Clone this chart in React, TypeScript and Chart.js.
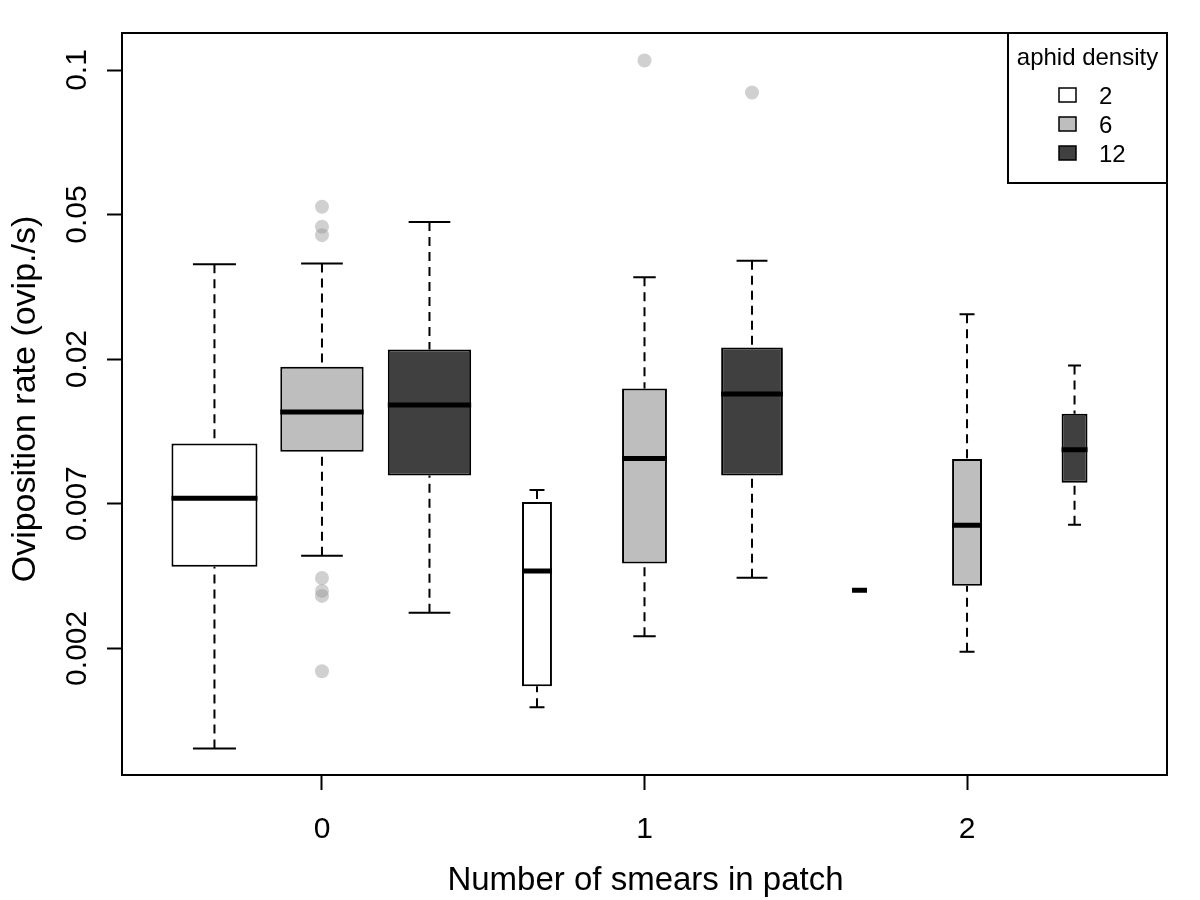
import React, { useEffect, useRef } from "react";
import { Chart, registerables } from "chart.js";

Chart.register(...registerables);

// ---- data ----
const groupLabels = ["0", "1", "2"]; // number of smears in patch
const densityLabels = ["2", "6", "12"]; // aphid density
const yTickValues = [0.002, 0.007, 0.02, 0.05, 0.1];
const yTickLabels = ["0.002", "0.007", "0.02", "0.05", "0.1"];

// boxes in order: smears 0 (density 2, 6, 12), smears 1 (2, 6, 12), smears 2 (2, 6, 12)
const lowerWhisker = [0.00084, 0.00446, 0.00272, 0.0012, 0.00222, 0.00369, 0.00331, 0.00194, 0.00584];
const lowerQuartile = [0.00406, 0.01021, 0.0086, 0.00144, 0.00417, 0.00859, 0.00331, 0.00344, 0.00815];
const median = [0.00728, 0.01362, 0.01433, 0.00391, 0.00972, 0.01553, 0.00331, 0.00581, 0.01036];
const upperQuartile = [0.01085, 0.01892, 0.02128, 0.00709, 0.01616, 0.02153, 0.00331, 0.00968, 0.01345];
const upperWhisker = [0.0365, 0.0367, 0.0477, 0.00773, 0.0336, 0.0373, 0.00331, 0.0266, 0.0191];
const sampleSize = [33, 31, 31, 4, 9, 17, 1, 4, 3];

// outliers: index of the box they belong to, and their value
const outlierBox = [1, 1, 1, 1, 1, 1, 1, 4, 5];
const outlierValue = [0.0519, 0.0463, 0.0439, 0.00368, 0.00329, 0.00315, 0.00164, 0.1047, 0.0898];

// ---- styles ----
const densityColors = ["#ffffff", "#bebebe", "#404040"];
const outlierColor = "rgba(150,150,150,0.45)";
const FONT = '"Liberation Sans", Arial, Helvetica, sans-serif';

// The y axis is drawn with its labelled ticks equally spaced; values are placed
// by log-interpolation between neighbouring labelled ticks.
function toAxis(v: number): number {
  const L = yTickValues.map((t) => Math.log10(t));
  const x = Math.log10(v);
  let k = 0;
  if (x >= L[L.length - 1]) k = L.length - 2;
  else if (x <= L[0]) k = 0;
  else {
    while (k < L.length - 2 && x > L[k + 1]) k++;
  }
  return k + (x - L[k]) / (L[k + 1] - L[k]);
}

const nMax = Math.max(...sampleSize);
const boxPos = median.map((_, i) => i + 1);
const relWidth = sampleSize.map((n) => 0.8 * Math.sqrt(n / nMax));
const groupTickPos = groupLabels.map((_, g) => g * 3 + 2);

const GAP = { x: NaN, y: NaN };

function buildDatasets(): any[] {
  const boxes = boxPos.map((p, i) => ({
    type: "bar",
    data: [{ x: p, y: [toAxis(lowerQuartile[i]), toAxis(upperQuartile[i])] }],
    backgroundColor: densityColors[i % 3],
    borderColor: "#000",
    borderWidth: 2,
    borderSkipped: false,
    grouped: false,
    barPercentage: relWidth[i],
    categoryPercentage: 1,
    order: 2,
  }));

  const whiskers: any[] = [];
  const caps: any[] = [];
  const medians: any[] = [];
  boxPos.forEach((p, i) => {
    const hw = relWidth[i] / 2;
    if (upperWhisker[i] !== upperQuartile[i]) {
      whiskers.push({ x: p, y: toAxis(upperWhisker[i]) }, { x: p, y: toAxis(upperQuartile[i]) }, GAP);
    }
    if (lowerWhisker[i] !== lowerQuartile[i]) {
      whiskers.push({ x: p, y: toAxis(lowerWhisker[i]) }, { x: p, y: toAxis(lowerQuartile[i]) }, GAP);
    }
    if (sampleSize[i] > 1) {
      caps.push({ x: p - hw / 2, y: toAxis(upperWhisker[i]) }, { x: p + hw / 2, y: toAxis(upperWhisker[i]) }, GAP);
      caps.push({ x: p - hw / 2, y: toAxis(lowerWhisker[i]) }, { x: p + hw / 2, y: toAxis(lowerWhisker[i]) }, GAP);
    }
    medians.push({ x: p - hw, y: toAxis(median[i]) }, { x: p + hw, y: toAxis(median[i]) }, GAP);
  });

  const lineBase = {
    type: "scatter",
    showLine: true,
    spanGaps: false,
    pointRadius: 0,
    pointHoverRadius: 0,
    borderColor: "#000",
    backgroundColor: "#000",
    tension: 0,
    fill: false,
  };

  return [
    { ...lineBase, data: medians, borderWidth: 5, borderCapStyle: "butt", order: 0 },
    { ...lineBase, data: caps, borderWidth: 2, borderCapStyle: "butt", order: 1 },
    ...boxes,
    { ...lineBase, data: whiskers, borderWidth: 2, borderDash: [9, 6], borderCapStyle: "butt", order: 3 },
    {
      type: "scatter",
      data: outlierValue.map((v, j) => ({ x: boxPos[outlierBox[j]], y: toAxis(v) })),
      showLine: false,
      pointRadius: 7,
      pointHoverRadius: 7,
      pointBackgroundColor: outlierColor,
      pointBorderWidth: 0,
      pointBorderColor: "rgba(0,0,0,0)",
      order: 4,
    },
  ];
}

const decorations = {
  id: "decorations",
  afterDraw(chart: any) {
    const { ctx, chartArea: a, scales } = chart;
    const xs = scales.x;
    const ys = scales.y;
    ctx.save();
    ctx.strokeStyle = "#000";
    ctx.lineWidth = 2;
    ctx.strokeRect(a.left, a.top, a.right - a.left, a.bottom - a.top);

    ctx.fillStyle = "#000";
    // y tick labels (rotated)
    ctx.font = `30px ${FONT}`;
    ctx.textAlign = "center";
    ctx.textBaseline = "alphabetic";
    yTickLabels.forEach((lab, i) => {
      const py = ys.getPixelForValue(i);
      ctx.save();
      ctx.translate(a.left - 36, py);
      ctx.rotate(-Math.PI / 2);
      ctx.fillText(lab, 0, 0);
      ctx.restore();
    });
    // x tick labels
    groupLabels.forEach((lab, g) => {
      ctx.fillText(lab, xs.getPixelForValue(groupTickPos[g]), a.bottom + 63);
    });
    // axis titles
    ctx.font = `33px ${FONT}`;
    ctx.fillText("Number of smears in patch", (a.left + a.right) / 2 + 1, a.bottom + 115);
    ctx.font = `34px ${FONT}`;
    ctx.save();
    ctx.translate(a.left - 87, (a.top + a.bottom) / 2 - 5);
    ctx.rotate(-Math.PI / 2);
    ctx.fillText("Oviposition rate (ovip./s)", 0, 0);
    ctx.restore();

    // legend
    const lw = 159;
    const lh = 150;
    const lx = a.right - lw;
    const ly = a.top;
    ctx.fillStyle = "#fff";
    ctx.fillRect(lx, ly, lw, lh);
    ctx.lineWidth = 2;
    ctx.strokeRect(lx, ly, lw, lh);
    ctx.fillStyle = "#000";
    ctx.font = `24px ${FONT}`;
    ctx.textAlign = "center";
    ctx.fillText("aphid density", lx + lw / 2, ly + 32);
    ctx.textAlign = "left";
    densityLabels.forEach((lab, i) => {
      const cy = ly + 62 + i * 29;
      ctx.fillStyle = densityColors[i];
      ctx.fillRect(lx + 51, cy - 7, 17, 14);
      ctx.lineWidth = 1.5;
      ctx.strokeRect(lx + 51, cy - 7, 17, 14);
      ctx.fillStyle = "#000";
      ctx.fillText(lab, lx + 91, cy + 9);
    });
    ctx.restore();
  },
};

export default function App() {
  const ref = useRef<HTMLCanvasElement>(null);
  useEffect(() => {
    const canvas = ref.current;
    if (!canvas) return;
    const chart = new Chart(canvas, {
      type: "scatter",
      data: { datasets: buildDatasets() },
      options: {
        responsive: false,
        devicePixelRatio: 1,
        animation: false,
        events: [],
        layout: { padding: { top: 33, right: 33, left: 0, bottom: 0 } },
        plugins: { legend: { display: false }, tooltip: { enabled: false } },
        scales: {
          x: {
            type: "linear",
            min: 0.14,
            max: 9.86,
            offset: false,
            afterBuildTicks: (s: any) => {
              s.ticks = groupTickPos.map((v) => ({ value: v }));
            },
            afterFit: (s: any) => {
              s.height = 125;
            },
            ticks: { display: false },
            border: { display: false },
            grid: {
              offset: false,
              drawOnChartArea: false,
              drawTicks: true,
              tickLength: 15,
              tickColor: "#000",
              tickWidth: 2,
              color: "#000",
            },
          },
          y: {
            type: "linear",
            min: -0.876,
            max: 4.256,
            afterBuildTicks: (s: any) => {
              s.ticks = yTickLabels.map((_, i) => ({ value: i }));
            },
            afterFit: (s: any) => {
              s.width = 122;
            },
            ticks: { display: false },
            border: { display: false },
            grid: {
              drawOnChartArea: false,
              drawTicks: true,
              tickLength: 15,
              tickColor: "#000",
              tickWidth: 2,
              color: "#000",
            },
          },
        },
      } as any,
      plugins: [decorations],
    } as any);
    return () => chart.destroy();
  }, []);
  return (
    <div style={{ position: "absolute", left: 0, top: 0, width: 1200, height: 900, background: "#fff" }}>
      <canvas ref={ref} width={1200} height={900} style={{ display: "block", width: 1200, height: 900 }} />
    </div>
  );
}
